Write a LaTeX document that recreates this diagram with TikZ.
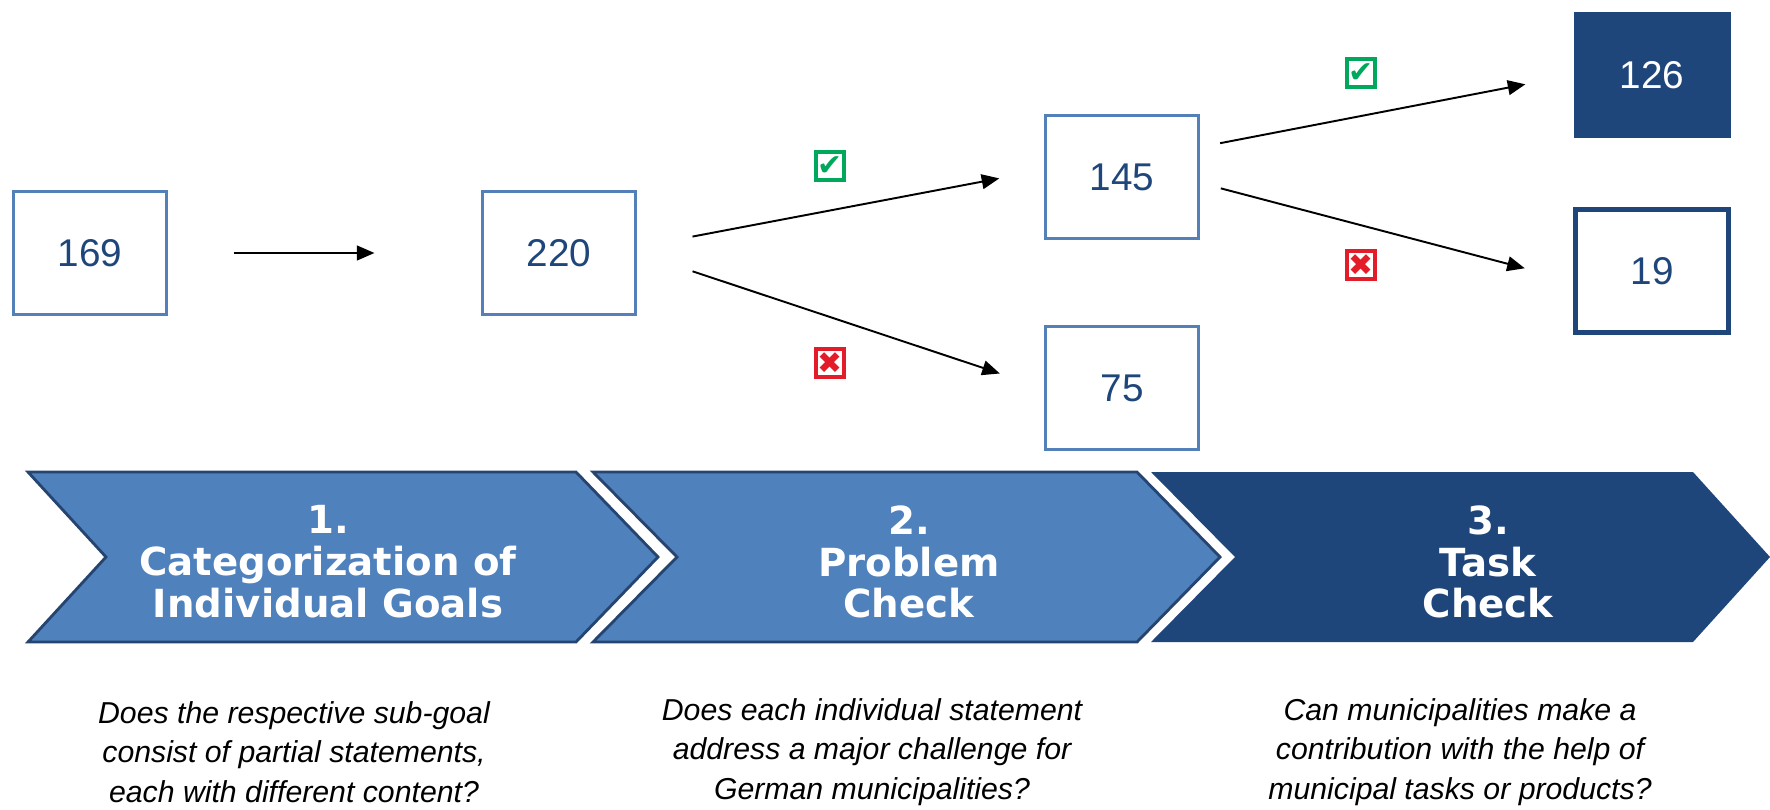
\documentclass[tikz,border=0pt]{standalone}
\usepackage{fontspec}
\setmainfont{Liberation Sans}
\newfontfamily\chevfont{DejaVu Sans}
\newfontfamily\symfont{DejaVu Sans}
\usetikzlibrary{arrows.meta}

\definecolor{boxblue}{RGB}{84,128,186}
\definecolor{navy}{RGB}{31,70,122}
\definecolor{chevblue}{RGB}{79,129,189}
\definecolor{chevline}{RGB}{38,68,112}
\definecolor{okgreen}{RGB}{0,168,92}
\definecolor{nored}{RGB}{226,28,40}

\begin{document}
\begin{tikzpicture}[x=0.01cm,y=-0.01cm,
  numbox/.style={draw=boxblue,line width=1.1pt,minimum width=1.53cm,minimum height=1.23cm,
    inner sep=0pt,text=navy,font=\fontsize{11}{13}\selectfont},
  arr/.style={line width=0.55pt,-{Triangle[length=5pt,width=4.2pt]}},
  okmark/.style={draw=okgreen,line width=0.9pt,minimum size=0.28cm,inner sep=0pt,
    text=okgreen,font=\symfont\fontsize{8.5}{8.5}\selectfont},
  nomark/.style={okmark,draw=nored,text=nored},
  chevtext/.style={text=white,align=center,font=\chevfont\bfseries\fontsize{11}{11.9}\selectfont},
  question/.style={align=center,font=\itshape\fontsize{8.6}{11.2}\selectfont}]
\useasboundingbox (0,0) rectangle (1770,809);
% counts
\node[numbox] (b169) at (90,253) {169};
\node[numbox] (b220) at (559,253) {220};
\node[numbox] (b145) at (1122,177) {145};
\node[numbox] (b75) at (1122,388) {75};
\node[numbox,fill=navy,draw=navy,text=white] (b126) at (1652,75) {126};
\node[numbox,draw=navy,line width=1.3pt] (b19) at (1652,271) {19};
% arrows
\draw[arr,shorten <=0.65cm,shorten >=1.06cm] (b169) -- (b220);
\draw[arr,shorten <=0.56cm,shorten >=0.45cm] ([yshift=0.06cm]b220.east) -- ([yshift=0.07cm]b145.west);
\draw[arr,shorten <=0.58cm,shorten >=0.46cm] (b220.east) -- (b75.west);
\draw[arr,shorten <=0.2cm,shorten >=0.49cm] ([yshift=0.3cm]b145.east) -- (b126.west);
\draw[arr,shorten <=0.21cm,shorten >=0.5cm] ([yshift=-0.06cm]b145.east) -- ([yshift=-0.1cm]b19.west);
% yes / no marks
\node[okmark] (ok1) at (830,166) {✔};
\node[nomark] (no1) at (830,363) {✖};
\node[okmark] (ok2) at (1361,73) {✔};
\node[nomark] (no2) at (1361,265) {✖};
% steps
\filldraw[fill=chevblue,draw=chevline,line width=0.8pt]
  (28,472) -- (576,472) -- (658,557) -- (576,642) -- (28,642) -- (106,557) -- cycle;
\filldraw[fill=chevblue,draw=chevline,line width=0.8pt]
  (593,472) -- (1137,472) -- (1220,557) -- (1137,642) -- (593,642) -- (677,557) -- cycle;
\fill[navy]
  (1151,472) -- (1693,472) -- (1770,557) -- (1693,642) -- (1151,642) -- (1235,557) -- cycle;
\node[chevtext] (s1) at (328,562) {1.\\Categorization of\\Individual Goals};
\node[chevtext] (s2) at (909,562) {2.\\Problem\\Check};
\node[chevtext] (s3) at (1488,562) {3.\\Task\\Check};
% questions
\node[question] (q1) at (294,752) {Does the respective sub-goal\\consist of partial statements,\\each with different content?};
\node[question] (q2) at (872,752) {Does each individual statement\\address a major challenge for\\German municipalities?};
\node[question] (q3) at (1460,752) {Can municipalities make a\\contribution with the help of\\municipal tasks or products?};
\end{tikzpicture}
\end{document}
